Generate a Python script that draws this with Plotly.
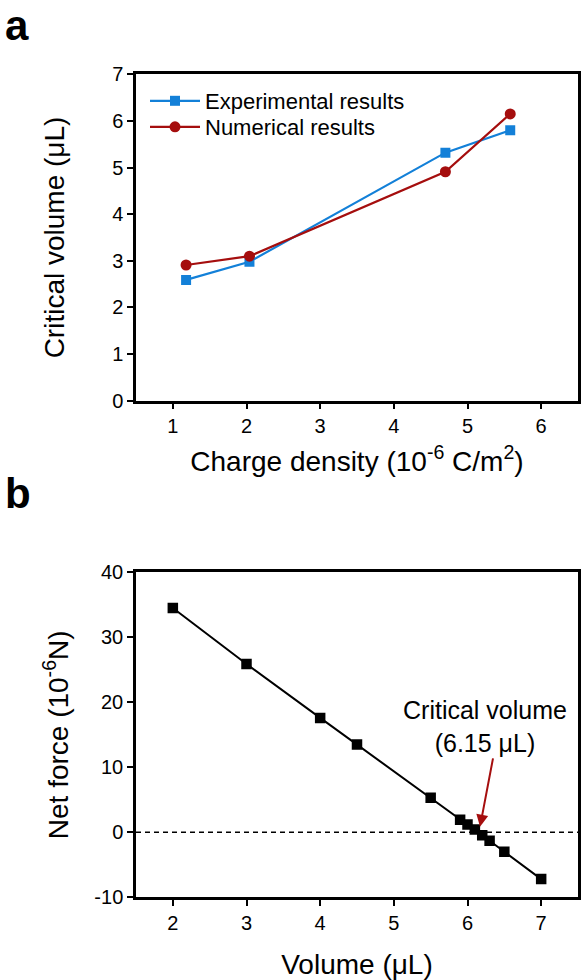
import plotly.graph_objects as go

# Panel a data
charge_density = [1.18, 2.04, 4.70, 5.58]
exp_volume = [2.59, 2.98, 5.32, 5.80]
num_volume = [2.91, 3.10, 4.91, 6.15]

# Panel b data
volume = [2.0, 3.0, 4.0, 4.5, 5.5, 5.9, 6.0, 6.1, 6.2, 6.3, 6.5, 7.0]
net_force = [34.5, 25.9, 17.6, 13.5, 5.3, 1.95, 1.2, 0.45, -0.45, -1.3, -3.0, -7.2]

force_ticks = [-10, 0, 10, 20, 30, 40]
force_tick_labels = ["-10", "0", "10", "20", "30", "40"]

critical_volume = 6.15

FONT = "Arial, Liberation Sans, sans-serif"
BLUE = "#1380D8"
RED = "#A50E0E"

fig = go.Figure()

fig.add_trace(go.Scatter(
    x=charge_density, y=exp_volume, mode="lines+markers",
    name="Experimental results", legend="legend",
    line=dict(color=BLUE, width=2.2),
    marker=dict(symbol="square", size=10, color=BLUE),
    xaxis="x", yaxis="y"))
fig.add_trace(go.Scatter(
    x=charge_density, y=num_volume, mode="lines+markers",
    name="Numerical results", legend="legend2",
    line=dict(color=RED, width=2.2),
    marker=dict(symbol="circle", size=11, color=RED),
    xaxis="x", yaxis="y"))

fig.add_trace(go.Scatter(
    x=[1.5, 7.5], y=[0, 0], mode="lines", showlegend=False,
    line=dict(color="black", width=1.5, dash="5px,4px"),
    xaxis="x2", yaxis="y2", hoverinfo="skip"))
fig.add_trace(go.Scatter(
    x=volume, y=net_force, mode="lines+markers", showlegend=False,
    line=dict(color="black", width=2),
    marker=dict(symbol="square", size=10.5, color="black"),
    xaxis="x2", yaxis="y2"))

axis_common = dict(
    showline=True, linecolor="black", linewidth=2.5, mirror=True,
    ticks="outside", ticklen=6, tickwidth=2, tickcolor="black",
    showgrid=False, zeroline=False, automargin=False,
    tickfont=dict(family=FONT, size=20, color="black"),
)

legend_common = dict(
    xanchor="left", yanchor="top",
    bgcolor="rgba(0,0,0,0)", borderwidth=0,
    font=dict(family=FONT, size=22, color="black"),
    itemwidth=50,
)

fig.update_layout(
    width=587, height=980,
    margin=dict(l=0, r=0, t=0, b=0, pad=0, autoexpand=False),
    paper_bgcolor="white", plot_bgcolor="white",
    font=dict(family=FONT, color="black"),
    showlegend=True,
    legend=dict(legend_common, x=145 / 587, y=1 - 80 / 980),
    legend2=dict(legend_common, x=145 / 587, y=1 - 106 / 980),
    xaxis=dict(axis_common, domain=[136 / 587, 578 / 587], range=[0.5, 6.5],
               tickvals=[1, 2, 3, 4, 5, 6], anchor="y",
               title=dict(text="Charge density (10<sup>-6</sup> C/m<sup>2</sup>)",
                          font=dict(family=FONT, size=28), standoff=15)),
    yaxis=dict(axis_common, domain=[1 - 400.7 / 980, 1 - 74.3 / 980], range=[0, 7],
               tickvals=[0, 1, 2, 3, 4, 5, 6, 7], anchor="x",
               title=dict(text="Critical volume (μL)",
                          font=dict(family=FONT, size=28), standoff=40)),
    xaxis2=dict(axis_common, domain=[136 / 587, 578 / 587], range=[1.5, 7.5],
                tickvals=[2, 3, 4, 5, 6, 7], anchor="y2",
                title=dict(text="Volume (μL)",
                           font=dict(family=FONT, size=28), standoff=24)),
    yaxis2=dict(axis_common, domain=[1 - 897.3 / 980, 1 - 572.3 / 980], range=[-10, 40],
                tickvals=force_ticks, ticktext=force_tick_labels, anchor="x2",
                title=dict(text="Net force (10<sup>-6</sup>N)",
                           font=dict(family=FONT, size=28), standoff=18)),
)

fig.add_annotation(x=0.0, y=1.0, xref="paper", yref="paper", xanchor="left", yanchor="top",
                   text="<b>a</b>", showarrow=False, font=dict(family=FONT, size=42, color="black"),
                   xshift=3, yshift=0)
fig.add_annotation(x=0.0, y=1 - 468 / 980, xref="paper", yref="paper", xanchor="left", yanchor="top",
                   text="<b>b</b>", showarrow=False, font=dict(family=FONT, size=42, color="black"),
                   xshift=3)

fig.add_annotation(x=6.24, y=16.3, xref="x2", yref="y2",
                   text="Critical volume<br>(6.15 μL)", showarrow=False,
                   font=dict(family=FONT, size=25, color="black"), align="center")
fig.add_annotation(x=critical_volume + 0.02, y=0.86, xref="x2", yref="y2",
                   ax=6.35, ay=11.6, axref="x2", ayref="y2",
                   text="", showarrow=True, arrowhead=2, arrowsize=1.2,
                   arrowwidth=2, arrowcolor=RED)

fig.write_html(
    "out.html",
    config={"displayModeBar": False},
    post_script="document.body.style.margin='0';document.body.style.overflow='hidden';",
)
